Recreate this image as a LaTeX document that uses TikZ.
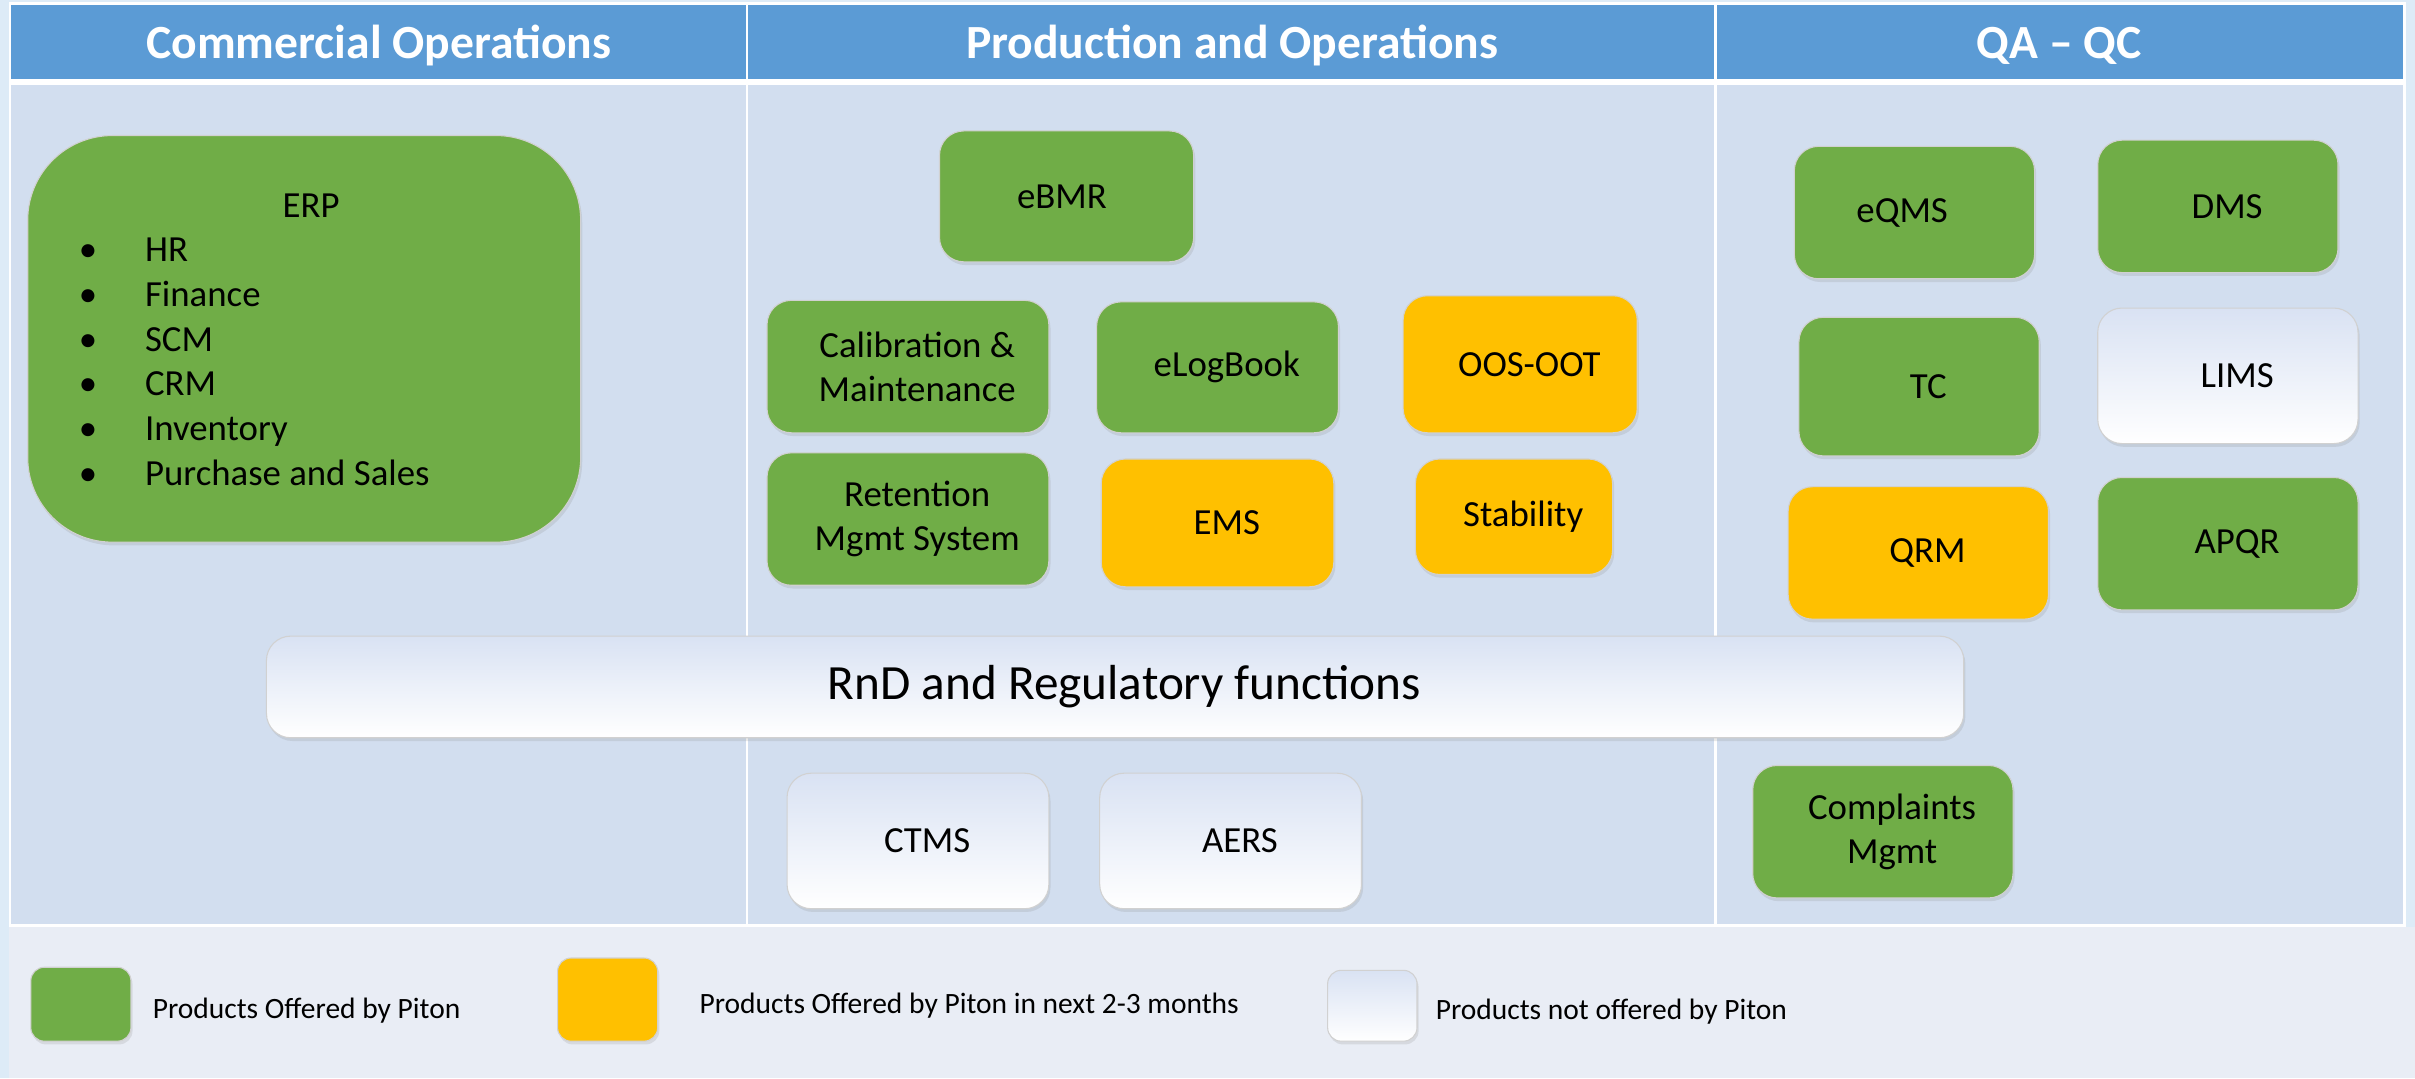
\documentclass[tikz,border=0pt]{standalone}
\usepackage{fontspec}
\setmainfont{Carlito}
\usetikzlibrary{shadows}

\definecolor{pageblue}{HTML}{DDEBF7}
\definecolor{headblue}{HTML}{5B9BD5}
\definecolor{bodyblue}{HTML}{D2DEEF}
\definecolor{legendbg}{HTML}{E9EDF5}
\definecolor{offergreen}{HTML}{70AD47}
\definecolor{soonorange}{HTML}{FFC000}
\definecolor{nogray}{HTML}{D9E2F3}

\newlength\lpad
\setlength\lpad{0.24cm}

\tikzset{
  sz/.style 2 args={minimum width=#1*0.02cm, minimum height=#2*0.02cm},
  prod/.style={rounded corners=9pt, draw=black!18, line width=0.4pt, align=center,
    font=\fontsize{13.6}{16.4}\selectfont, execute at begin node={\hspace*{\lpad}},
    drop shadow={opacity=0.18, shadow xshift=0.6pt, shadow yshift=-1.2pt}},
  offered/.style={prod, fill=offergreen},
  soon/.style={prod, fill=soonorange},
  notoffered/.style={prod, top color=nogray, bottom color=white},
  head/.style={text=white, font=\fontsize{17.6}{21}\bfseries\selectfont},
  erpitem/.style={anchor=west, font=\fontsize{13.6}{16}\selectfont, text height=1.6ex, text depth=0.4ex},
  legtext/.style={anchor=west, font=\fontsize{10.9}{13}\selectfont}
}

\begin{document}
\begin{tikzpicture}[x=0.02cm, y=-0.02cm]
\useasboundingbox (0,0) rectangle (1568,700);
% page and table
\fill[pageblue] (0,0) rectangle (1568,700);
\fill[white] (6,1) rectangle (1562,602);
\fill[legendbg] (6,602) rectangle (1568,700);
\fill[headblue] (7,3) rectangle (1560,51);
\fill[bodyblue] (7,55) rectangle (1560,600);
\draw[white, line width=1pt] (485,3) -- (485,600);
\draw[white, line width=1pt] (1114,3) -- (1114,600);

\node[head] (comm) at (246,29.5) {Commercial Operations};
\node[head] (prodops) at (800,29.5) {Production and Operations};
\node[head] (qaqc) at (1337,29.5) {QA – QC};

% commercial
\node[offered, rounded corners=1.1cm, sz={359}{264}] (erp) at (197.5,220) {};
\node[erpitem, anchor=center] (erptitle) at (202,136) {ERP};
\foreach \item [count=\i] in {HR, Finance, SCM, CRM, Inventory, Purchase and Sales} {
  \node[erpitem] (bul\i) at (45,{136+29*\i}) {\textbullet};
  \node[erpitem] (erp\i) at (88,{136+29*\i}) {\item};
}

% production and operations
\node[offered, sz={165}{85}] (ebmr) at (692.5,127.5) {\hspace*{-0.36cm}eBMR};
\node[offered, sz={183}{86}] (calib) at (589.5,238) {Calibration \&\\Maintenance};
\node[offered, sz={157}{85}] (elog) at (790.5,238.5) {eLogBook};
\node[soon, sz={152}{89}] (oos) at (987,236.5) {OOS-OOT};
\node[offered, sz={183}{86}] (retention) at (589.5,337) {Retention\\Mgmt System};
\node[soon, sz={151}{83}] (ems) at (790.5,339.5) {EMS};
\node[soon, sz={128}{75}] (stability) at (983,335.5) {Stability};

\node[notoffered, sz={1102}{66}, font=\fontsize{18.2}{22}\selectfont] (rnd) at (724,446) {RnD and Regulatory functions};
\node[notoffered, sz={170}{88}] (ctms) at (596,546) {CTMS};
\node[notoffered, sz={170}{88}] (aers) at (799,546) {AERS};

% QA - QC
\node[offered, sz={156}{86}] (eqms) at (1243,138) {\hspace*{-0.56cm}eQMS};
\node[offered, sz={156}{86}] (dms) at (1440,134) {DMS};
\node[offered, sz={156}{90}] (tc) at (1246,251) {TC};
\node[notoffered, sz={169}{88}] (lims) at (1446.5,244) {LIMS};
\node[soon, sz={169}{86}] (qrm) at (1245.5,359) {QRM};
\node[offered, sz={169}{86}] (apqr) at (1446.5,353) {APQR};
\node[offered, sz={169}{86}] (complaints) at (1222.5,540) {Complaints\\Mgmt};

% legend
\node[offered, rounded corners=5pt, sz={65}{48}] (lgreen) at (52.5,652) {};
\node[legtext] (lgreentxt) at (93,656) {Products Offered by Piton};
\node[soon, rounded corners=5pt, sz={65}{54}] (lorange) at (394.5,649) {};
\node[legtext] (lorangetxt) at (448,653) {Products Offered by Piton in next 2-3 months};
\node[notoffered, rounded corners=5pt, sz={58}{46}] (lwhite) at (891,653) {};
\node[legtext] (lwhitetxt) at (926,657) {Products not offered by Piton};
\end{tikzpicture}
\end{document}
